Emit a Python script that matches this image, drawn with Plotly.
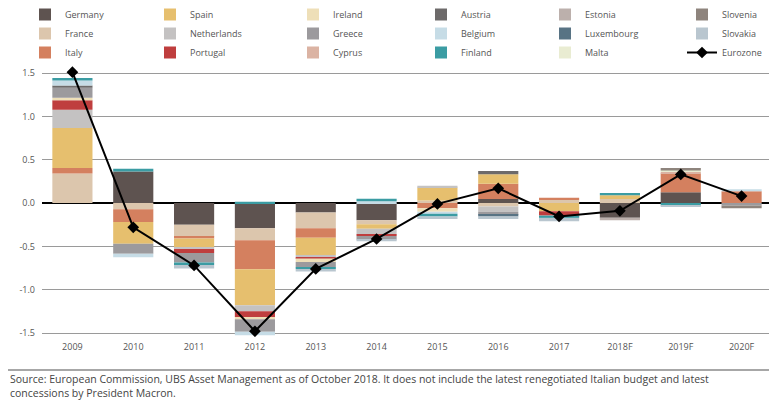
import plotly.graph_objects as go

years = ["2009", "2010", "2011", "2012", "2013", "2014", "2015", "2016", "2017", "2018F", "2019F", "2020F"]

germany     = [0.0, 0.365, -0.25, -0.29, -0.11, -0.20, 0.0, 0.046, 0.0, -0.17, 0.125, 0.0]
france      = [0.34, -0.073, -0.14, -0.14, -0.18, -0.046, 0.03, -0.04, 0.035, 0.045, 0.0, 0.0]
italy       = [0.065, -0.146, -0.02, -0.335, -0.11, 0.0, -0.06, 0.175, 0.027, 0.0, 0.215, 0.135]
spain       = [0.46, -0.25, -0.10, -0.415, -0.20, -0.05, 0.15, 0.11, -0.095, 0.045, 0.0, 0.0]
netherlands = [0.21, 0.0, -0.02, -0.07, -0.025, -0.065, 0.02, -0.06, 0.0, 0.0, 0.0, 0.0]
portugal    = [0.11, 0.0, -0.046, -0.065, -0.015, -0.02, 0.0, 0.0, -0.045, 0.0, 0.0, 0.0]
ireland     = [0.03, 0.0, 0.0, -0.025, -0.04, 0.0, -0.04, 0.0, 0.0, 0.0, 0.0, 0.0]
greece      = [0.115, -0.115, -0.11, -0.146, -0.06, -0.04, 0.0, -0.035, -0.015, 0.0, 0.0, -0.03]
cyprus      = [0.0, 0.0, 0.0, 0.0, 0.0, 0.0, 0.0, 0.0, 0.0, 0.0, 0.02, 0.0]
austria     = [0.027, 0.0, 0.0, 0.0, 0.0, 0.0, 0.0, 0.038, 0.0, 0.0, 0.0, 0.0]
belgium     = [0.058, -0.042, 0.0, -0.04, 0.0, 0.02, -0.025, 0.0, 0.0, 0.0, 0.0, 0.025]
finland     = [0.027, 0.03, -0.03, 0.015, -0.02, 0.03, -0.03, 0.0, -0.015, 0.025, -0.03, 0.0]
estonia     = [0.0, 0.0, 0.0, 0.0, 0.0, 0.0, 0.0, 0.0, 0.0, -0.03, 0.0, 0.0]
luxembourg  = [0.0, 0.0, 0.0, 0.0, 0.0, 0.0, 0.0, -0.02, 0.0, 0.0, 0.0, 0.0]
malta       = [0.0, 0.0, 0.0, 0.0, 0.0, 0.0, 0.0, 0.0, 0.0, 0.0, 0.015, 0.0]
slovenia    = [0.0, 0.0, 0.0, 0.0, 0.0, 0.0, 0.0, 0.0, 0.0, 0.0, 0.03, -0.03]
slovakia    = [0.0, 0.0, -0.04, 0.0, -0.03, -0.02, -0.03, -0.03, -0.04, 0.0, -0.015, 0.0]

eurozone = [1.51, -0.28, -0.72, -1.48, -0.76, -0.415, -0.01, 0.17, -0.155, -0.09, 0.33, 0.08]

y_tickvals = [-1.5, -1.0, -0.5, 0.0, 0.5, 1.0, 1.5]
y_ticktext = ["-1.5", "-1.0", "-0.5", "0.0", "0.5", "1.0", "1.5"]

source_text = ("Source: European Commission, UBS Asset Management as of October 2018. It does not include the latest "
               "renegotiated Italian budget and latest<br>concessions by President Macron.")

series = [
    ("Germany", germany, "#5e5350"),
    ("France", france, "#dcc6ad"),
    ("Italy", italy, "#d4805f"),
    ("Spain", spain, "#e6bf6e"),
    ("Netherlands", netherlands, "#c4c2c2"),
    ("Portugal", portugal, "#bf3e3e"),
    ("Ireland", ireland, "#eedfb8"),
    ("Greece", greece, "#9c9a9d"),
    ("Cyprus", cyprus, "#dbb3a3"),
    ("Austria", austria, "#6d6a6a"),
    ("Belgium", belgium, "#c6dce6"),
    ("Finland", finland, "#3b9ca3"),
    ("Estonia", estonia, "#bcb0ac"),
    ("Luxembourg", luxembourg, "#587384"),
    ("Malta", malta, "#e9ecd2"),
    ("Slovenia", slovenia, "#8e847d"),
    ("Slovakia", slovakia, "#b9c6cf"),
]

legend_ids = ["legend", "legend2", "legend3", "legend4", "legend5", "legend6"]

fig = go.Figure()
for i, (name, vals, color) in enumerate(series):
    fig.add_trace(go.Bar(
        x=years, y=vals, name=name,
        marker=dict(color=color, line=dict(width=0)),
        legend=legend_ids[i // 3],
    ))

fig.add_trace(go.Scatter(
    x=years, y=eurozone, name="Eurozone", mode="lines+markers",
    line=dict(color="black", width=2),
    marker=dict(symbol="diamond", size=9, color="black"),
    legend="legend6",
))

# The page body has an 8px default margin, so the figure is sized to fit the 777x400 window.
OFF = 8
W, H = 777 - OFF, 400 - OFF
ML, MT = 42 - OFF, 64 - OFF
MR = W - (772 - OFF)
MB = H - (337 - OFF)
PW, PH = W - ML - MR, H - MT - MB


def px_x(vx):
    """window pixel x -> paper fraction"""
    return (vx - OFF - ML) / PW


def px_y(vy):
    """window pixel y -> paper fraction"""
    return 1 - (vy - OFF - MT) / PH


font_family = "Open Sans, Noto Sans, sans-serif"
legend_left_px = [25, 150, 293, 421, 545, 682]
legend_common = dict(
    xref="paper", yref="paper", xanchor="left", yanchor="top",
    y=px_y(0), bgcolor="rgba(0,0,0,0)", borderwidth=0,
    font=dict(family=font_family, size=9, color="#555555"),
    traceorder="normal", orientation="v", tracegroupgap=0,
)
legend_layout = {}
for lid, lx in zip(legend_ids, legend_left_px):
    legend_layout[lid] = dict(x=px_x(lx), **legend_common)

fig.update_layout(
    width=W, height=H,
    margin=dict(l=ML, r=MR, t=MT, b=MB, autoexpand=False),
    barmode="relative",
    bargap=0.34,
    plot_bgcolor="white", paper_bgcolor="white",
    font=dict(family=font_family, size=9, color="#555555"),
    showlegend=True,
    **legend_layout,
)

fig.update_yaxes(
    range=[-1.546, 1.604],
    tickvals=y_tickvals, ticktext=y_ticktext,
    showgrid=True, gridcolor="#9a9a9a", gridwidth=1,
    zeroline=True, zerolinecolor="black", zerolinewidth=1.5,
    showline=False, ticks="", ticklabelstandoff=6,
    tickfont=dict(family=font_family, size=9, color="#555555"),
)
fig.update_xaxes(
    type="category", range=[-0.5, len(years) - 0.5],
    showgrid=False, showline=False, ticks="", ticklabelstandoff=3,
    tickfont=dict(family=font_family, size=9, color="#555555"),
)

fig.add_shape(type="line", xref="paper", yref="paper",
              x0=px_x(OFF), x1=px_x(777),
              y0=px_y(370), y1=px_y(370),
              line=dict(color="#8a8a8a", width=1.5))

fig.add_annotation(text=source_text, xref="paper", yref="paper",
                   x=px_x(OFF), y=px_y(385.5),
                   xanchor="left", yanchor="middle",
                   showarrow=False, align="left",
                   font=dict(family=font_family, size=10.5, color="#444444"))

fig.write_html("out.html")
